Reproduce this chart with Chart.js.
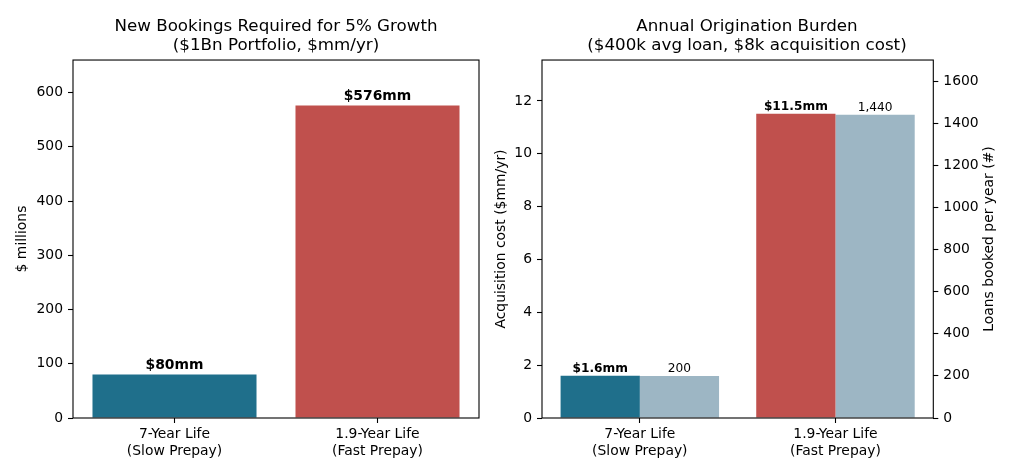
<!DOCTYPE html>
<html>
<head>
<meta charset="utf-8">
<script src="https://cdn.jsdelivr.net/npm/chart.js@4"></script>
<style>
  body { margin: 0; background: #fff; }
  #wrap { position: relative; width: 1033px; height: 475px; }
  .panel { position: absolute; top: 0; height: 475px; }
  #leftBox { left: 0; width: 552px; }
  #rightBox { left: 490px; width: 514px; }
</style>
</head>
<body>
<div id="wrap">
  <div class="panel" id="leftBox"><canvas id="bookingsChart"></canvas></div>
  <div class="panel" id="rightBox"><canvas id="burdenChart"></canvas></div>
</div>
<script>
// data
const categories = [["7-Year Life", "(Slow Prepay)"], ["1.9-Year Life", "(Fast Prepay)"]];
const newBookingsMM = [80, 576];
const acquisitionCostMM = [1.6, 11.52];
const loansBooked = [200, 1440];
const bookingsTicks = [0, 100, 200, 300, 400, 500, 600];
const costTicks = [0, 2, 4, 6, 8, 10, 12];
const loanTicks = [0, 200, 400, 600, 800, 1000, 1200, 1400, 1600];

const TEAL = "#1f6f8b";
const RED = "#c0504d";
const LIGHT = "#9db6c4";
const FONT = "DejaVu Sans";

Chart.defaults.font.family = FONT;
Chart.defaults.color = "#000";

// box around the plot area, like matplotlib spines
const frame = {
  id: "frame",
  afterDatasetsDraw(chart) {
    const a = chart.chartArea;
    const ctx = chart.ctx;
    ctx.save();
    ctx.strokeStyle = "#000";
    ctx.lineWidth = 1.1;
    ctx.strokeRect(a.left, a.top, a.right - a.left, a.bottom - a.top);
    ctx.restore();
  },
};

// text above each bar
const barText = {
  id: "barText",
  afterDatasetsDraw(chart) {
    const ctx = chart.ctx;
    chart.data.datasets.forEach((ds, i) => {
      if (!ds.valueLabels) return;
      const meta = chart.getDatasetMeta(i);
      ctx.save();
      ctx.font = (ds.labelBold ? "bold " : "") + ds.labelSize + "px " + FONT;
      ctx.fillStyle = "#000";
      ctx.textAlign = "center";
      ctx.textBaseline = "alphabetic";
      meta.data.forEach((bar, j) => {
        ctx.fillText(ds.valueLabels[j], bar.x, bar.y - ds.labelGap);
      });
      ctx.restore();
    });
  },
};

// right-hand axis title, reading bottom to top as in the reference
const rightTitle = {
  id: "rightTitle",
  afterDraw(chart) {
    const a = chart.chartArea;
    const ctx = chart.ctx;
    ctx.save();
    ctx.translate(499, (a.top + a.bottom) / 2);
    ctx.rotate(-Math.PI / 2);
    ctx.font = "13.9px " + FONT;
    ctx.fillStyle = "#000";
    ctx.textAlign = "center";
    ctx.textBaseline = "middle";
    ctx.fillText("Loans booked per year (#)", 0, 0);
    ctx.restore();
  },
};

const tickGrid = {
  display: true,
  drawOnChartArea: false,
  drawTicks: true,
  tickLength: 5,
  tickColor: "#000",
  tickWidth: 1.1,
  offset: false,
};

function titleOpts(lines, fullSize) {
  return {
    display: true,
    text: lines,
    color: "#000",
    fullSize: fullSize,
    font: { size: 16.7, weight: "normal", lineHeight: 1.17 },
    padding: { top: 16.75, bottom: 4.2 },
  };
}

function fixedTicks(values) {
  return function (scale) {
    scale.ticks = values.map((v) => ({ value: v }));
  };
}

const plainTick = (v) => String(v);

new Chart(document.getElementById("bookingsChart"), {
  type: "bar",
  data: {
    labels: categories,
    datasets: [
      {
        data: newBookingsMM,
        backgroundColor: [TEAL, RED],
        barPercentage: 0.808,
        categoryPercentage: 1,
        valueLabels: newBookingsMM.map((v) => "$" + v + "mm"),
        labelBold: true,
        labelSize: 13.9,
        labelGap: 6,
      },
    ],
  },
  options: {
    responsive: true,
    maintainAspectRatio: false,
    animation: false,
    layout: { padding: { left: 0, right: 73, top: 0, bottom: 0 } },
    plugins: {
      legend: { display: false },
      tooltip: { enabled: false },
      title: titleOpts(["New Bookings Required for 5% Growth", "($1Bn Portfolio, $mm/yr)"], false),
    },
    scales: {
      x: {
        grid: tickGrid,
        border: { display: false },
        ticks: { font: { size: 13.9 }, padding: 3, color: "#000" },
        afterFit: (s) => { s.height = 57; },
      },
      y: {
        min: 0,
        max: 660,
        grid: tickGrid,
        border: { display: false },
        ticks: { font: { size: 13.9 }, padding: 5, color: "#000", callback: plainTick },
        afterBuildTicks: fixedTicks(bookingsTicks),
        title: { display: true, text: "$ millions", font: { size: 13.9 }, padding: { top: 13.7, bottom: 0 } },
        afterFit: (s) => { s.width = 73; },
      },
    },
  },
  plugins: [frame, barText],
});

new Chart(document.getElementById("burdenChart"), {
  type: "bar",
  data: {
    labels: categories,
    datasets: [
      {
        data: acquisitionCostMM,
        yAxisID: "y",
        backgroundColor: [TEAL, RED],
        barPercentage: 1,
        categoryPercentage: 0.81,
        valueLabels: acquisitionCostMM.map((v) => "$" + v.toFixed(1) + "mm"),
        labelBold: true,
        labelSize: 12.2,
        labelGap: 4,
      },
      {
        data: loansBooked,
        yAxisID: "y1",
        backgroundColor: LIGHT,
        barPercentage: 1,
        categoryPercentage: 0.81,
        valueLabels: loansBooked.map((v) => v.toLocaleString("en-US")),
        labelBold: false,
        labelSize: 12.2,
        labelGap: 4,
      },
    ],
  },
  options: {
    responsive: true,
    maintainAspectRatio: false,
    animation: false,
    layout: { padding: 0 },
    plugins: {
      legend: { display: false },
      tooltip: { enabled: false },
      title: titleOpts(["Annual Origination Burden", "($400k avg loan, $8k acquisition cost)"], true),
    },
    scales: {
      x: {
        grid: tickGrid,
        border: { display: false },
        ticks: { font: { size: 13.9 }, padding: 3, color: "#000" },
        afterFit: (s) => { s.height = 57; },
      },
      y: {
        position: "left",
        min: 0,
        max: 13.55,
        grid: tickGrid,
        border: { display: false },
        ticks: { font: { size: 13.9 }, padding: 5, color: "#000", callback: plainTick },
        afterBuildTicks: fixedTicks(costTicks),
        title: { display: true, text: "Acquisition cost ($mm/yr)", font: { size: 13.9 }, padding: { top: 3.4, bottom: 0 } },
        afterFit: (s) => { s.width = 52; },
      },
      y1: {
        position: "right",
        min: 0,
        max: 1700,
        grid: tickGrid,
        border: { display: false },
        ticks: { font: { size: 13.9 }, padding: 5, color: "#000", callback: plainTick },
        afterBuildTicks: fixedTicks(loanTicks),
        afterFit: (s) => { s.width = 70.7; },
      },
    },
  },
  plugins: [frame, barText, rightTitle],
});
</script>
</body>
</html>
